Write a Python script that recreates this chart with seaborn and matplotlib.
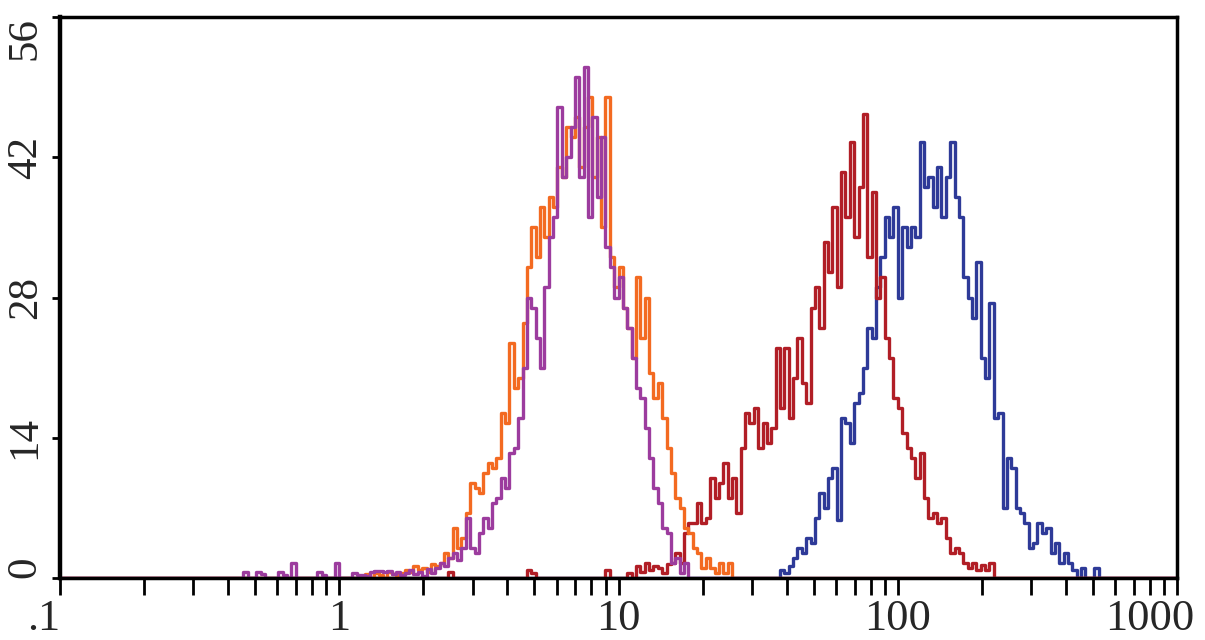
import numpy as np
import pandas as pd
import matplotlib
matplotlib.use("Agg")
import matplotlib.pyplot as plt
import matplotlib.transforms as mtransforms
import seaborn as sns
from matplotlib.ticker import FixedLocator, LogLocator, NullFormatter

# flow histogram: 256 channels spread over 4 decades (0.1 .. 1000)
N_CHANNELS = 256
CH_PER_DECADE = 64

# counts per channel; each list starts at *_start
purple_start = 42
purple_counts = [
    0.6, 0, 0, 0.6, 0.4, 0, 0, 0, 0.6, 0.3, 0, 1.5, 0, 0, 0, 0, 0, 0.6, 0.3, 0,
    0, 1.5, 0, 0, 0, 0.5, 0.3, 0.3, 0.2, 0.6, 0.7, 0.7, 0.6, 0.7, 0.4, 0.6, 0.3, 0.5, 0.8, 0.4,
    0.6, 0.2, 0.9, 0.5, 1.0, 1.5, 1.2, 2.0, 2.5, 1.8,
    3, 6, 3, 2.5, 4.5, 6, 5, 7.5, 8, 10, 9, 12.5, 13, 16, 21, 28, 27, 24, 21, 29,
    34, 36, 47, 40, 42, 45, 50, 40, 51, 36, 46, 38, 44, 33, 31, 28, 30, 27, 25, 22,
    19, 18, 15, 12, 9, 7.5, 5, 4.5, 1.5, 2, 0.5, 1.5,
]

orange_start = 70
orange_counts = [
    0.4, 0, 0.5, 0.3, 0, 0.6, 0.4, 0.3, 0.5, 0.8, 0.6, 1.2, 0.8, 1.0, 0.6, 1.4, 1.2,
    1.5, 2.5, 2, 5, 3, 4, 6.5, 9.5, 9, 8.5, 10.5, 11.5, 11, 12, 16.5, 15.5, 23.5, 19, 20,
    25.5, 31, 35, 32, 37, 34, 38, 37, 41, 40, 45, 44, 46, 41, 45, 48, 40, 44, 35, 48,
    32, 29, 31, 27, 25, 22, 30, 24, 28, 20.5, 18, 19.5, 16, 13, 10.5, 8, 7, 5, 4.5, 3,
    2.5, 1, 2, 1, 0.5, 1.5, 0.5, 1.5,
]

red_start = 89
red_counts = [
    0.6, 0, 0, 0, 0, 0, 0, 0, 0, 0, 0, 0, 0, 0, 0, 0, 0, 0, 0.8, 0.5,
    0, 0, 0, 0, 0, 0, 0, 0, 0, 0, 0, 0, 0, 0, 0, 0, 0.8, 0, 0, 0, 0,
    0.5, 0, 1.2, 0.6, 1.5, 0.8, 1.2, 1.0, 0.5, 1.4, 1.5, 2.5, 1.5, 4.5,
    5.5, 5.5, 7.5, 5.5, 6, 10, 8, 9.5, 11.5, 8, 10, 6.5, 13, 16.5, 15.5, 17, 13, 15.5,
    13.5, 15, 23, 17, 23, 16, 20, 24, 19.5, 17.5, 27, 29, 25, 33.5, 30.5, 37, 29, 40.5,
    36, 43.5, 34, 39, 46.3, 32, 38.5, 28, 30, 24, 22, 18, 17, 14.5, 13, 12, 10, 12.5,
    8, 6, 6.5, 5.5, 6, 4, 2.5, 3, 2.5, 1.5, 1, 1.5, 0.8, 1.3, 0.8, 1.5,
]

blue_start = 165
blue_counts = [
    0.8, 0.5, 1.2, 2, 3, 2.5, 4, 3.5, 6, 8.5, 7, 10, 11, 5.8, 16, 15.5, 13.5, 17.5, 18.5, 21,
    25, 24, 29, 32, 36, 34, 37, 28, 35, 33, 35, 34, 43.5, 39, 40, 37, 41, 36, 40, 43.5,
    38, 36, 30, 28, 26, 31.5, 22, 20, 27.5, 16, 16.5, 7, 12, 11, 7, 6.5, 5.5, 3, 3.5, 5.5,
    4.5, 5, 2.5, 3.5, 1.5, 2.5, 1.5, 0.8, 0, 1, 0, 0, 1,
]

# drawn back to front
series = [
    ("blue", blue_start, blue_counts, "#2E3A98"),
    ("red", red_start, red_counts, "#B11E26"),
    ("orange", orange_start, orange_counts, "#F36A21"),
    ("purple", purple_start, purple_counts, "#9C3C9E"),
]

x_ticks = [0.1, 1, 10, 100, 1000]
x_ticklabels = [".1", "1", "10", "100", "1000"]
y_ticks = [0, 14, 28, 42, 56]


def to_frame(name, start, counts):
    ch = np.arange(start, start + len(counts))
    return pd.DataFrame({
        "sample": name,
        "fluorescence": 10 ** ((ch + 0.5) / CH_PER_DECADE - 1),
        "count": counts,
    })


sns.set_style("ticks")
plt.rcParams["font.family"] = ["Liberation Serif", "DejaVu Serif"]

# channel edges on the log axis (list, seaborn chokes on an array here)
edges = list(10 ** (np.arange(N_CHANNELS + 1) / CH_PER_DECADE - 1))

fig = plt.figure(figsize=(12.05, 6.4), dpi=100)
ax = fig.add_axes([0.0498, 0.0969, 0.9270, 0.8765])

for name, start, counts, color in series:
    df = to_frame(name, start, counts)
    sns.histplot(
        data=df, x="fluorescence", weights="count", bins=edges,
        element="step", fill=False, color=color, linewidth=2.4, ax=ax,
    )

ax.set_xscale("log")
ax.set_xlim(0.1, 1000)
ax.set_ylim(0, 56)
ax.set_xlabel("")
ax.set_ylabel("")

ax.xaxis.set_major_locator(FixedLocator(x_ticks))
ax.set_xticklabels(x_ticklabels, fontsize=32)
ax.xaxis.set_minor_locator(LogLocator(base=10, subs=np.arange(2, 10)))
ax.xaxis.set_minor_formatter(NullFormatter())
ax.tick_params(axis="x", which="both", direction="out", length=12, width=2, pad=3, color="black")

ax.set_yticks(y_ticks)
ax.set_yticklabels([str(v) for v in y_ticks], fontsize=31, rotation=90, va="center")
ax.tick_params(axis="y", which="both", direction="out", length=6, width=2, pad=5, color="black")

labels = ax.get_yticklabels()
labels[0].set_va("bottom")
labels[-1].set_va("top")
xlabels = ax.get_xticklabels()
xlabels[0].set_ha("right")
xlabels[-1].set_ha("right")
# last label hangs a little past the right spine
shift = mtransforms.ScaledTranslation(0.17, 0, fig.dpi_scale_trans)
xlabels[-1].set_transform(xlabels[-1].get_transform() + shift)

for side in ["left", "right", "top", "bottom"]:
    ax.spines[side].set_visible(True)
    ax.spines[side].set_color("black")
ax.spines["left"].set_linewidth(3.2)
ax.spines["top"].set_linewidth(2.5)
ax.spines["right"].set_linewidth(2.5)
ax.spines["bottom"].set_linewidth(2.5)

fig.savefig("out.png", dpi=100, facecolor="white")
